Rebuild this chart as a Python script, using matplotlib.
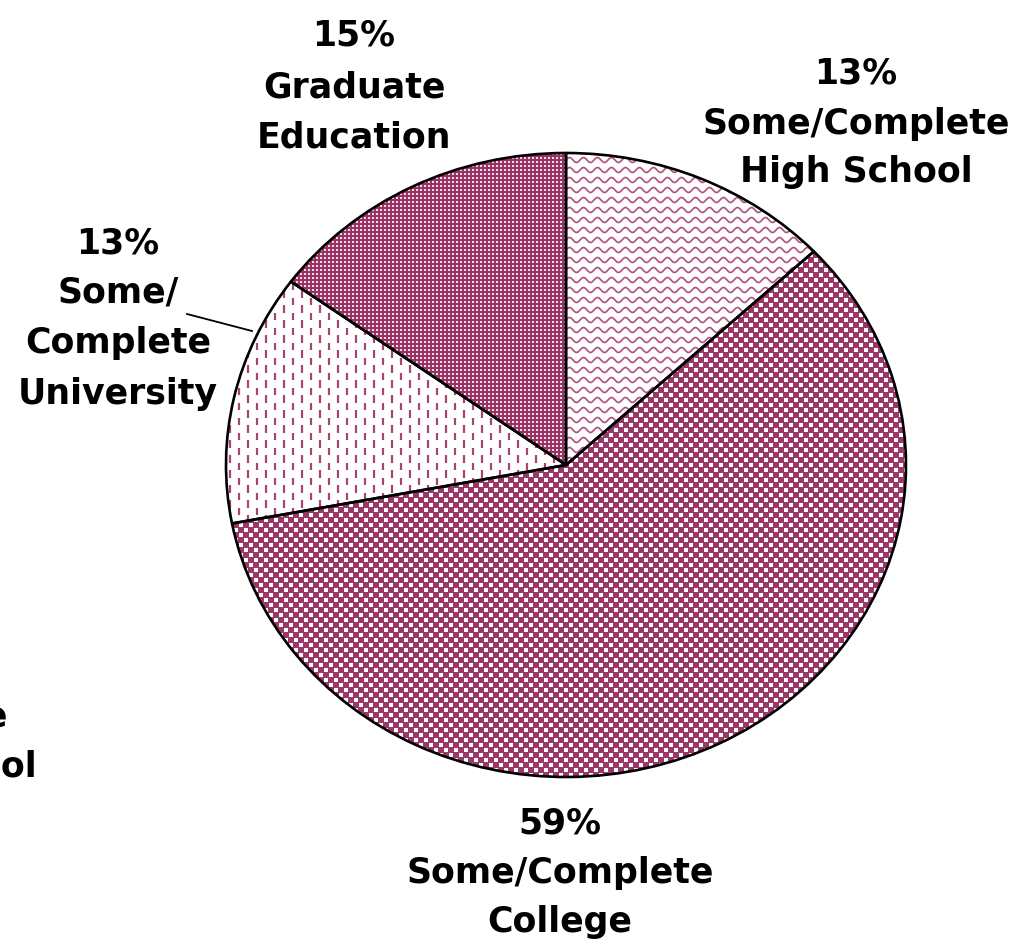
import numpy as np
import matplotlib
matplotlib.use("Agg")
import matplotlib.pyplot as plt
from matplotlib.patches import Wedge
from matplotlib.collections import LineCollection
from matplotlib.lines import Line2D

# ---------------- data ----------------
categories = ["Some/Complete High School", "Some/Complete College",
              "Some/Complete University", "Graduate Education"]
values = [13, 59, 13, 15]
label_hs = ["13%", "Some/Complete", "High School"]
label_col = ["59%", "Some/Complete", "College"]
label_uni = ["13%", "Some/", "Complete", "University"]
label_grad = ["15%", "Graduate", "Education"]
label_elem = ["0%", "Some/Complete", "Elementary School"]

MAROON = "#993366"
W, H = 1021, 945
fig = plt.figure(figsize=(W / 100, H / 100), dpi=100)

# pie geometry in pixels
cx, cy, rx, ry = 566, 466, 340, 312
m = 1.1
ax = fig.add_axes([(cx - rx * m) / W, (H - (cy + ry * m)) / H,
                   2 * rx * m / W, 2 * ry * m / H])

wedges, _ = ax.pie(values, startangle=90, counterclock=False, radius=1,
                   colors=["white", "#9c3868", "white", MAROON],
                   wedgeprops=dict(linewidth=0))
ax.set_xlim(-m, m)
ax.set_ylim(-m, m)
ax.set_aspect("auto")
ax.axis("off")

sx, sy = 1.0 / rx, 1.0 / ry  # pixel -> data

# High school: wavy lines
w_hs = wedges[0]
segs = []
xs = np.arange(-5, 345, 1.0)
for y0 in np.arange(-5, 325, 10.0):
    ys = y0 + 2.5 * np.sin(2 * np.pi * xs / 14.0)
    segs.append(np.column_stack([xs * sx, ys * sy]))
lc = LineCollection(segs, colors="#b0507f", linewidths=1.2, zorder=2)
lc.set_clip_path(w_hs)
ax.add_collection(lc)

# College: white squares on maroon (checker)
w_col = wedges[1]
c = 5.0
gx, gy = np.meshgrid(np.arange(-345, 345, c), np.arange(-320, 320, c))
ii = np.round(gx / c).astype(int)
jj = np.round(gy / c).astype(int)
mask = ((ii + jj) % 2 == 1)
sc = ax.scatter(gx[mask] * sx, gy[mask] * sy, s=9, marker="s",
                c="white", linewidths=0, zorder=2)
sc.set_clip_path(w_col)

# University: vertical dashes
w_uni = wedges[2]
segs = []
for k, x in enumerate(np.arange(-345, 5, 9.0)):
    off = 7.5 if k % 2 else 0.0
    for y in np.arange(-80, 200, 15.0) + off:
        segs.append([(x * sx, y * sy), (x * sx, (y + 7.5) * sy)])
lc2 = LineCollection(segs, colors="#a64476", linewidths=1.6, zorder=2)
lc2.set_clip_path(w_uni)
ax.add_collection(lc2)

# Graduate: fine white dot grid on maroon
w_gr = wedges[3]
g = 4.0
hx, hy = np.meshgrid(np.arange(-345, 5, g), np.arange(-5, 320, g))
sg = ax.scatter(hx.ravel() * sx, hy.ravel() * sy, s=1.6, marker="s",
                c="#f4dbe6", linewidths=0, zorder=2)
sg.set_clip_path(w_gr)

# outlines
for w in wedges:
    ax.add_patch(Wedge(w.center, w.r, w.theta1, w.theta2, fill=False,
                       edgecolor="black", linewidth=1.9, zorder=5,
                       joinstyle="round"))

# ---------------- labels ----------------
font = dict(family="DejaVu Sans", weight="bold", size=25, color="black")


def put(lines, x, baselines, ha="center"):
    for t, b in zip(lines, baselines):
        fig.text(x / W, 1 - b / H, t, ha=ha, va="baseline", **font)


put(label_grad, 354, [45, 97, 147])
put(label_hs, 856, [84, 134, 182])
put(label_uni, 118, [253, 303, 353, 404])
put(label_col, 560, [833, 883, 932])
# partially visible label at the left edge (cut off in the original)
fig.text(-146 / W, 1 - 677 / H, label_elem[0], ha="center", va="baseline", **font)
fig.text(8 / W, 1 - 727 / H, label_elem[1], ha="right", va="baseline", **font)
fig.text(37 / W, 1 - 777 / H, label_elem[2], ha="right", va="baseline", **font)

# leader line for University label
fig.add_artist(Line2D([187 / W, 252 / W], [1 - 315 / H, 1 - 332 / H],
                      color="black", linewidth=1.3, transform=fig.transFigure))

fig.savefig("out.png", dpi=100)
